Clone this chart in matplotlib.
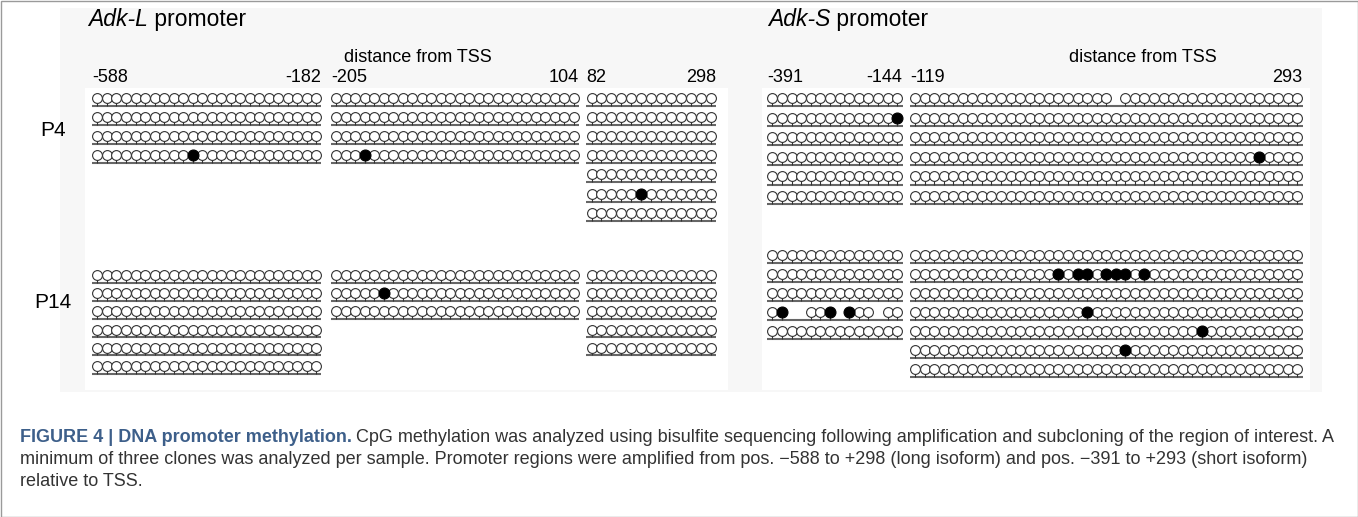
import matplotlib.pyplot as plt
from matplotlib.patches import Rectangle

plt.rcParams['font.family'] = ['Liberation Sans', 'DejaVu Sans']

W, H = 1358, 517

# CpG calls per clone: o = unmethylated, x = methylated, ' ' = no call
adkL_p4_a = ["o" * 24] * 3 + ["o" * 10 + "x" + "o" * 13]
adkL_p4_b = ["o" * 26] * 3 + ["o" * 3 + "x" + "o" * 22]
adkL_p4_c = ["o" * 13] * 5 + ["o" * 5 + "x" + "o" * 7, "o" * 13]
adkL_p14_a = ["o" * 24] * 6
adkL_p14_b = ["o" * 26, "o" * 5 + "x" + "o" * 20, "o" * 26]
adkL_p14_c = ["o" * 13] * 5

adkS_p4_a = ["o" * 14, "o" * 13 + "x"] + ["o" * 14] * 4
adkS_p4_b = ["o" * 21 + " " + "o" * 19, "o" * 41, "o" * 41,
             "o" * 36 + "x" + "o" * 4, "o" * 41, "o" * 41]
adkS_p14_a = ["o" * 14] * 3 + ["ox  oox xoo oo", "o" * 14]
adkS_p14_b = ["o" * 41, "o" * 15 + "xoxxoxxxox" + "o" * 16, "o" * 41,
              "o" * 18 + "x" + "o" * 22, "o" * 30 + "x" + "o" * 10,
              "o" * 22 + "x" + "o" * 18, "o" * 41]

# amplicon ends (distance from TSS)
adkL_ends = [("-588", "-182"), ("-205", "104"), ("82", "298")]
adkS_ends = [("-391", "-144"), ("-119", "293")]
samples = ["P4", "P14"]

fig = plt.figure(figsize=(W / 100, H / 100), dpi=100)


def fx(x):
    return x / W


def fy(y):
    return 1 - y / H


# background, panel images and frame
bg = fig.add_axes([0, 0, 1, 1])
bg.set_xlim(0, W)
bg.set_ylim(H, 0)
bg.axis('off')
bg.add_patch(Rectangle((60, 8), 1262, 384, color='#f7f7f7', lw=0))
bg.add_patch(Rectangle((85, 88), 643, 302, color='white', lw=0))
bg.add_patch(Rectangle((762, 88), 548, 302, color='white', lw=0))
bg.add_patch(Rectangle((0.5, 0.5), W - 1, H - 1, fill=False, ec='#9a9a9a', lw=1))


def draw_clones(rows, x0, dx, y0, dy):
    n = len(rows[0])
    left, right = x0 - dx / 2, x0 + (n - 0.5) * dx
    top, bottom = y0 - dy / 2, y0 + (len(rows) - 0.5) * dy
    ax = fig.add_axes([fx(left), fy(bottom), (right - left) / W, (bottom - top) / H])
    ax.set_xlim(-0.5, n - 0.5)
    ax.set_ylim(len(rows) - 0.5, -0.5)
    ax.axis('off')
    for r, calls in enumerate(rows):
        sites = [i for i, c in enumerate(calls) if c != ' ']
        unm = [i for i in sites if calls[i] == 'o']
        met = [i for i in sites if calls[i] == 'x']
        ax.hlines(r + 0.42, -0.55, n - 0.45, color='#666666', lw=1.5, clip_on=False)
        ax.vlines(sites, r + 0.2, r + 0.42, color='#333333', lw=0.8, clip_on=False)
        ax.scatter(unm, [r] * len(unm), s=50, facecolor='white', edgecolor='#333333',
                   lw=0.8, zorder=3, clip_on=False)
        ax.scatter(met, [r] * len(met), s=62, facecolor='black', edgecolor='black',
                   lw=0.8, zorder=4, clip_on=False)
    return left, right


# Adk-L panels
layout_L = [(97.5, 9.5), (336, 9.52), (591.5, 9.96)]
for (x0, dx), ends, p4, p14 in zip(layout_L, adkL_ends,
                                   [adkL_p4_a, adkL_p4_b, adkL_p4_c],
                                   [adkL_p14_a, adkL_p14_b, adkL_p14_c]):
    left, right = draw_clones(p4, x0, dx, 98, 19.1)
    draw_clones(p14, x0, dx, 275, 18.2)
    fig.text(fx(left), fy(77), ends[0], ha='left', va='center', fontsize=13)
    fig.text(fx(right), fy(77), ends[1], ha='right', va='center', fontsize=13)

# Adk-S panels
layout_S = [(772.5, 9.6), (915, 9.56)]
for (x0, dx), ends, p4, p14 in zip(layout_S, adkS_ends,
                                   [adkS_p4_a, adkS_p4_b], [adkS_p14_a, adkS_p14_b]):
    left, right = draw_clones(p4, x0, dx, 98, 19.6)
    draw_clones(p14, x0, dx, 255, 19.0)
    fig.text(fx(left), fy(77), ends[0], ha='left', va='center', fontsize=13)
    fig.text(fx(right), fy(77), ends[1], ha='right', va='center', fontsize=13)

# titles and sample labels
fig.canvas.draw()
for x, gene in [(88, 'Adk-L'), (768, 'Adk-S')]:
    t = fig.text(fx(x), fy(26), gene, ha='left', va='baseline', fontsize=16.5, style='italic')
    fig.canvas.draw()
    bb = t.get_window_extent()
    fig.text(bb.x1 / W, fy(26), ' promoter', ha='left', va='baseline', fontsize=16.5)
fig.text(fx(418), fy(57), 'distance from TSS', ha='center', va='center', fontsize=13)
fig.text(fx(1143), fy(57), 'distance from TSS', ha='center', va='center', fontsize=13)
fig.text(fx(53), fy(130), samples[0], ha='center', va='center', fontsize=15)
fig.text(fx(53), fy(302), samples[1], ha='center', va='center', fontsize=15)

# caption
cap = dict(ha='left', va='baseline', fontsize=13)
bold = fig.text(fx(20), fy(442), 'FIGURE 4 | DNA promoter methylation.',
                fontweight='bold', color='#3d5f8a', **cap)
fig.canvas.draw()
bb = bold.get_window_extent()
fig.text(bb.x1 / W + 0.003, fy(442),
         'CpG methylation was analyzed using bisulfite sequencing following amplification '
         'and subcloning of the region of interest. A', color='#333333', **cap)
fig.text(fx(20), fy(464),
         'minimum of three clones was analyzed per sample. Promoter regions were amplified '
         'from pos. \u2212588 to +298 (long isoform) and pos. \u2212391 to +293 (short isoform)',
         color='#333333', **cap)
fig.text(fx(20), fy(486), 'relative to TSS.', color='#333333', **cap)

fig.savefig('out.png', dpi=100)
